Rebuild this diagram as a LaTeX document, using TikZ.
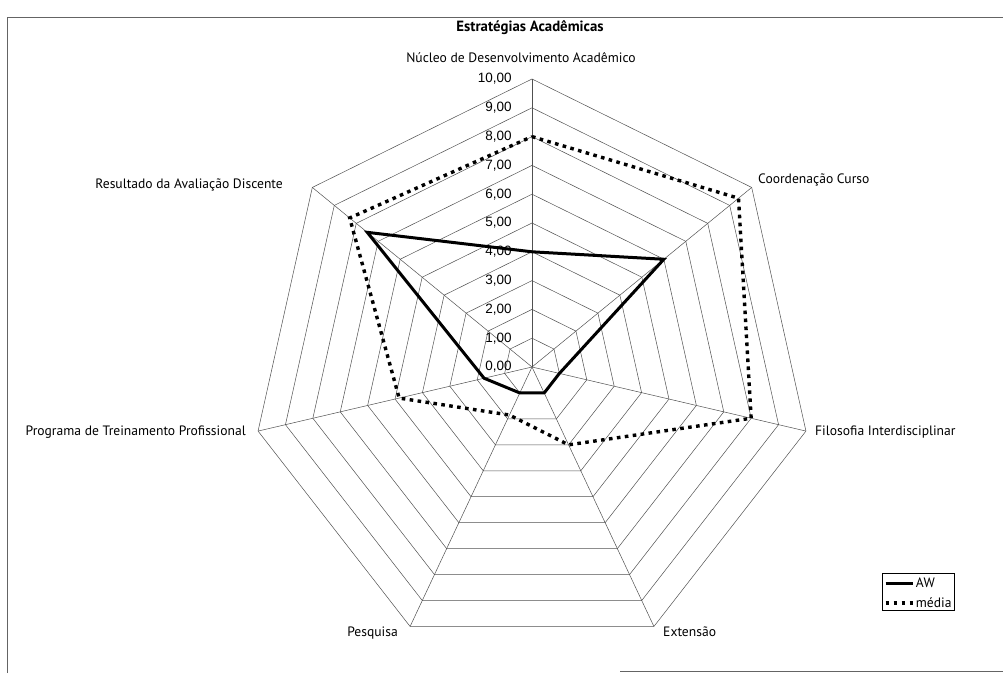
\documentclass[tikz,border=0pt]{standalone}
\usepackage{fontspec}
\setmainfont{PT Sans}
\newfontfamily\numfont{Liberation Sans}
\usetikzlibrary{positioning}
\definecolor{gridgray}{RGB}{80,80,80}
\definecolor{framegray}{RGB}{100,100,100}

\tikzset{
  gridline/.style={draw=gridgray, line width=0.5pt},
  awline/.style={draw=black, line width=3pt, line join=miter},
  medialine/.style={draw=black, line width=3.4pt, dash pattern=on 3.6pt off 4.4pt},
  axislabel/.style={font=\fontsize{13.6}{15}\selectfont, inner sep=0pt},
  ticklabel/.style={font=\numfont\fontsize{13.5}{15}\selectfont, anchor=east, inner sep=0pt},
}

\begin{document}
\begin{tikzpicture}[x=1pt, y=1pt]
\useasboundingbox (0,0) rectangle (1003,673);
% frame of the chart area
\draw[framegray, line width=0.8pt] (7,0) -- (7,656) -- (1003,656);
\draw[framegray, line width=0.8pt] (620,2) -- (1003,2);
\node[font=\bfseries\fontsize{14.8}{16}\selectfont, inner sep=0pt] (title) at (530,645) {Estratégias Acadêmicas};
\begin{scope}[shift={(532,306)}, x=28.1pt, y=28.8pt]
% rings and spokes
\foreach \r in {1,...,10}
  \draw[gridline] (90:\r) \foreach \k in {1,...,6} { -- (90-\k*360/7:\r) } -- cycle;
\foreach \k in {0,...,6}
  \draw[gridline] (0,0) -- (90-\k*360/7:10);
\foreach \v in {0,...,10}
  \node[ticklabel] (tick\v) at (-0.72,\v) {\v,00};
% data
\foreach \val [count=\k from 0] in {4,6,1,1,1,1.75,7.5}
  \coordinate (aw\k) at (90-\k*360/7:\val);
\foreach \val [count=\k from 0] in {8,9.4,8,3,1.85,4.85,8.3}
  \coordinate (md\k) at (90-\k*360/7:\val);
\draw[medialine] (md0) -- (md1) -- (md2) -- (md3) -- (md4) -- (md5) -- (md6) -- cycle;
\draw[awline] (aw0) -- (aw1) -- (aw2) -- (aw3) -- (aw4) -- (aw5) -- (aw6) -- cycle;
\end{scope}
% axis names
\node[axislabel] (nucleo) at (521,615) {Núcleo de Desenvolvimento Acadêmico};
\node[axislabel, anchor=west] (coord) at (758,493) {Coordenação Curso};
\node[axislabel, anchor=west] (filos) at (815,241) {Filosofia Interdisciplinar};
\node[axislabel, anchor=west] (exten) at (663,41) {Extensão};
\node[axislabel, anchor=east] (pesq) at (398,40) {Pesquisa};
\node[axislabel, anchor=east] (prog) at (246,241) {Programa de Treinamento Profissional};
\node[axislabel, anchor=east] (result) at (283,488) {Resultado da Avaliação Discente};
% legend
\node[draw=black, line width=0.6pt, minimum width=72pt, minimum height=37pt, inner sep=0pt] (legend) at (918,81.5) {};
\draw[awline] ([xshift=4pt,yshift=8.5pt]legend.west) -- ++(27pt,0) coordinate (awend);
\draw[medialine] ([xshift=4pt,yshift=-11.5pt]legend.west) -- ++(27pt,0) coordinate (mdend);
\node[axislabel, anchor=west] (legaw) at ([xshift=3pt]awend) {AW};
\node[axislabel, anchor=west] (legmd) at ([xshift=3pt]mdend) {média};
\end{tikzpicture}
\end{document}
